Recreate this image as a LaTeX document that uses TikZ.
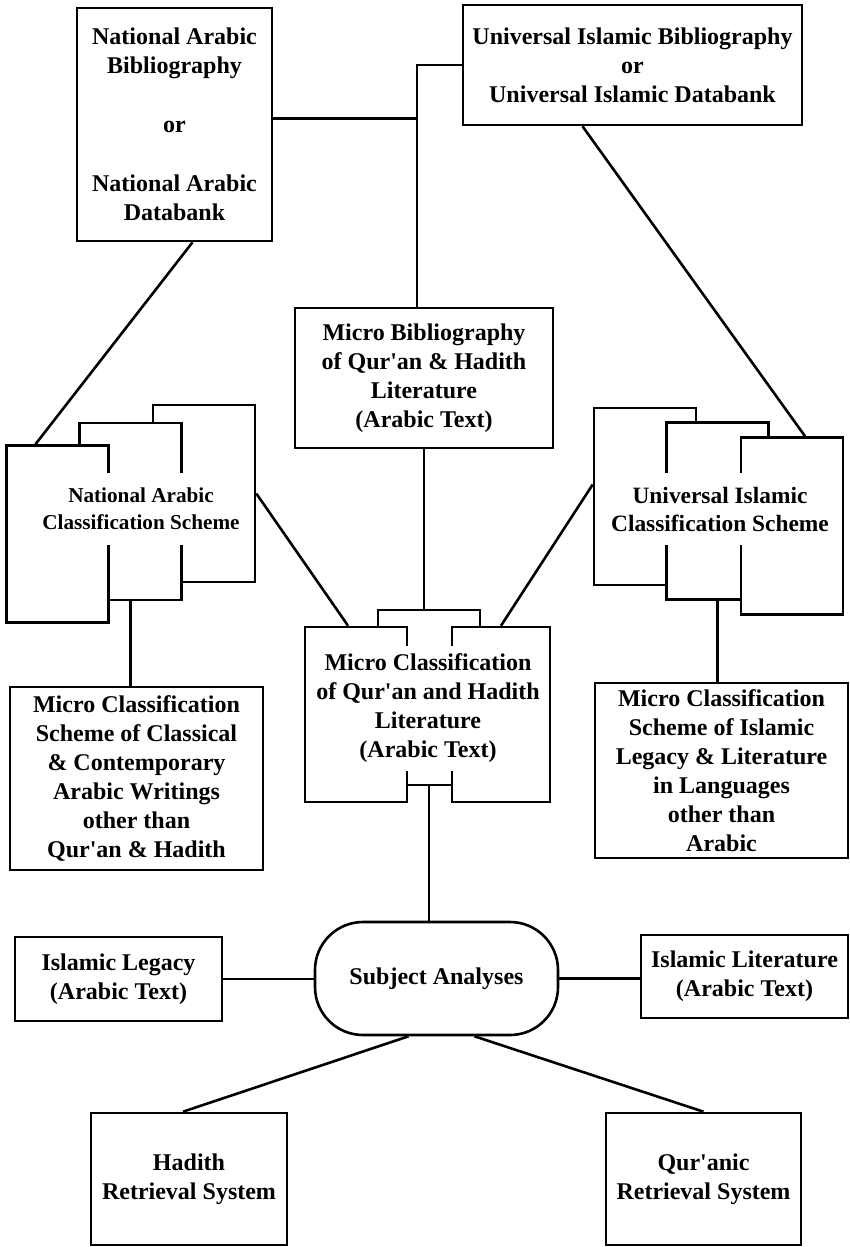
\documentclass[tikz,border=0pt]{standalone}
\usepackage{fontspec}
\setmainfont{Liberation Serif}
\newcommand{\apos}{\textquotesingle}
\tikzset{
  box/.style={draw,line width=1.3pt,fill=white,align=center,inner sep=0pt,font=\fontsize{12}{14.5}\selectfont\bfseries},
  sheet/.style={draw,line width=1.3pt,fill=white,inner sep=0pt,minimum width=51pt,minimum height=88.5pt},
  cover/.style={fill=white,align=center,inner xsep=1pt,font=\fontsize{12}{14.5}\selectfont\bfseries},
  link/.style={line width=1.3pt},
}
\begin{document}
\begin{tikzpicture}[x=0.5pt,y=-0.5pt]
        \useasboundingbox (0,0) rectangle (850,1247);
        \node[box,minimum width=97.5pt,minimum height=116.5pt] (nab) at (174.5,124.5) {National Arabic\\Bibliography\\[15pt]or\\[15pt]National Arabic\\Databank};
        \node[box,minimum width=169.5pt,minimum height=60pt] (uib) at (632.5,65) {Universal Islamic Bibliography\\or\\Universal Islamic Databank};
        \node[box,minimum width=129pt,minimum height=70pt] (mb) at (424,378) {Micro Bibliography\\of Qur\apos{}an \& Hadith\\Literature\\(Arabic Text)};
        % national scheme
        \node[sheet] (nacsA) at (204,493.5) {};
        \node[sheet] (nacsB) at (130.5,511.5) {};
        \node[sheet] (nacsC) at (57.5,534) {};
        \node[cover,inner ysep=7.5pt,font=\fontsize{10.6}{13.5}\selectfont\bfseries] (nacs) at (141,509) {National Arabic\\Classification Scheme};
        % universal scheme
        \node[sheet] (uicsA) at (645,496.5) {};
        \node[sheet] (uicsB) at (717.5,511) {};
        \node[sheet] (uicsC) at (792,526) {};
        \node[cover,inner ysep=7pt,font=\fontsize{11.7}{14}\selectfont\bfseries] (uics) at (720,509) {Universal Islamic\\Classification Scheme};
        % micro classification
        \node[sheet,minimum height=87.5pt] (mcB) at (429,697.5) {};
        \node[sheet,minimum height=87.5pt] (mcL) at (356,714.5) {};
        \node[sheet,minimum width=49pt,minimum height=87.5pt] (mcR) at (501,714.5) {};
        \node[cover,inner ysep=4pt] (mc) at (428,708) {Micro Classification\\of Qur\apos{}an and Hadith\\Literature\\(Arabic Text)};
        \node[box,minimum width=126.5pt,minimum height=91.5pt] (mcsl) at (136.5,778.5) {Micro Classification\\Scheme of Classical\\\& Contemporary\\Arabic Writings\\other than\\Qur\apos{}an \& Hadith};
        \node[box,minimum width=126.5pt,minimum height=87.5pt] (mcsr) at (721.5,770.5) {Micro Classification\\Scheme of Islamic\\Legacy \& Literature\\in Languages\\other than\\Arabic};
        \node[box,rounded corners=24pt,minimum width=121.5pt,minimum height=56.5pt] (sa) at (436.5,978.5) {Subject Analyses};
        \node[box,minimum width=103.5pt,minimum height=42pt] (il) at (118.5,979) {Islamic Legacy\\(Arabic Text)};
        \node[box,minimum width=103.5pt,minimum height=41.5pt] (ilit) at (744.5,976.5) {Islamic Literature\\(Arabic Text)};
        \node[box,minimum width=98pt,minimum height=66pt] (hrs) at (189,1179) {Hadith\\Retrieval System};
        \node[box,minimum width=97.5pt,minimum height=66pt] (qrs) at (703.5,1179) {Qur\apos{}anic\\Retrieval System};
        % links
        \coordinate (mbin) at ([xshift=-3.5pt]mb.north);
        \coordinate (nabout) at ([yshift=3pt]nab.east);
        \draw[link] (uib.west) -| (mbin);
        \draw[link] (nabout) -- (nabout -| mbin);
        \draw[link] ([xshift=9pt]nab.south) -- ([xshift=-11pt]nacsC.north);
        \draw[link] ([xshift=-25pt]uib.south) -- ([xshift=6.5pt]uicsC.north);
        \draw[link] (mb.south) -- (mb.south |- mcB.north);
        \draw[link] (nacsA.east) -- ([xshift=-4pt]mcL.north);
        \draw[link] ([yshift=6pt]uicsA.west) -- (mcR.north);
        \draw[link] (nacsB.south) -- (nacsB.south |- mcsl.north);
        \draw[link] (uicsB.south) -- (uicsB.south |- mcsr.north);
        \draw[link] (mcB.south) -- (mcB.south |- sa.north);
        \draw[link] (il.east) -- (il.east -| sa.west);
        \draw[link] (sa.east) -- (sa.east -| ilit.west);
        \draw[link] ([xshift=-14pt]sa.south) -- ([xshift=-3pt]hrs.north);
        \draw[link] ([xshift=19pt]sa.south) -- (qrs.north);
\end{tikzpicture}
\end{document}
